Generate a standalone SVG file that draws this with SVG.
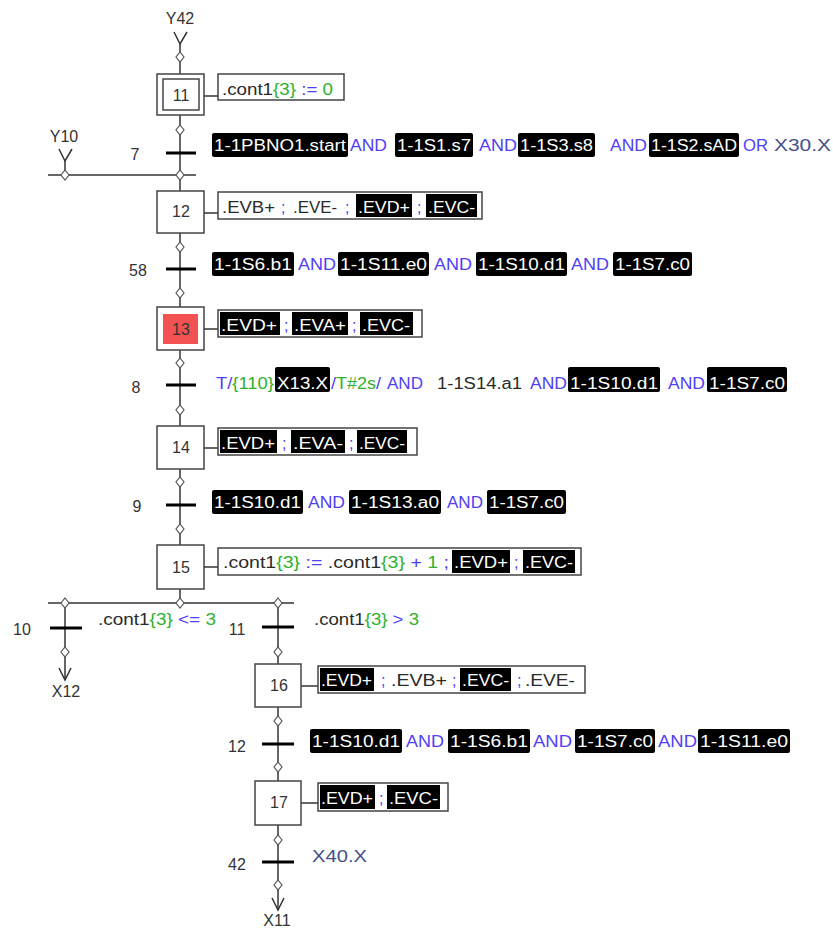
<svg xmlns="http://www.w3.org/2000/svg" xmlns:xlink="http://www.w3.org/1999/xlink" width="833" height="930" viewBox="0 0 833 930">
<style>
text{font-family:"Liberation Sans",Arial,sans-serif;font-size:16px;}
.box{fill:#fff;stroke:#444;stroke-width:1.5;}
.act{fill:#fff;stroke:#444;stroke-width:1.5;}
.blk{fill:#000;}
.w{fill:#fff;}
.d{fill:#2a2a2a;}
.b{fill:#5040f5;}
.g{fill:#30b030;}
.s{fill:#44508a;}
.num{fill:#333;text-anchor:middle;}
.lbl{fill:#333;text-anchor:middle;}
.ln{stroke:#333;stroke-width:1.5;fill:none;}
.bar{stroke:#000;stroke-width:3;}
</style>
<defs>
<path id="dm" d="M0,-5 L4,0 L0,5 L-4,0 Z" fill="#fff" stroke="#555" stroke-width="1.2"/>
</defs>

<g id="connectors">
<polyline class="ln" points="174,32 180,44 187,32"/>
<line class="ln" x1="180" y1="44" x2="180" y2="74"/>
<line class="ln" x1="180" y1="115" x2="180" y2="191"/>
<polyline class="ln" points="59,149 65,161 72,149"/>
<line class="ln" x1="65" y1="161" x2="65" y2="175"/>
<line class="ln" x1="48" y1="175" x2="196" y2="175"/>
<line class="ln" x1="180" y1="233" x2="180" y2="307"/>
<line class="ln" x1="180" y1="350" x2="180" y2="426"/>
<line class="ln" x1="180" y1="469" x2="180" y2="545"/>
<line class="ln" x1="180" y1="589" x2="180" y2="603"/>
<line class="ln" x1="48" y1="603" x2="294" y2="603"/>
<line class="ln" x1="65" y1="603" x2="65" y2="680"/>
<polyline class="ln" points="59,668 65,680 71,668"/>
<line class="ln" x1="278" y1="603" x2="278" y2="664"/>
<line class="ln" x1="278" y1="707" x2="278" y2="781"/>
<line class="ln" x1="278" y1="825" x2="278" y2="910"/>
<polyline class="ln" points="272,898 278,910 284,898"/>
<line class="ln" x1="204" y1="96" x2="218" y2="96"/>
<line class="ln" x1="204" y1="213" x2="218" y2="213"/>
<line class="ln" x1="204" y1="329" x2="218" y2="329"/>
<line class="ln" x1="204" y1="448" x2="218" y2="448"/>
<line class="ln" x1="204" y1="567" x2="218" y2="567"/>
<line class="ln" x1="301" y1="686" x2="318" y2="686"/>
<line class="ln" x1="301" y1="803" x2="318" y2="803"/>
<use href="#dm" x="180" y="57"/>
<use href="#dm" x="180" y="130"/>
<use href="#dm" x="180" y="175"/>
<use href="#dm" x="65" y="175"/>
<use href="#dm" x="180" y="247"/>
<use href="#dm" x="180" y="293"/>
<use href="#dm" x="180" y="363"/>
<use href="#dm" x="180" y="410"/>
<use href="#dm" x="180" y="482"/>
<use href="#dm" x="180" y="529"/>
<use href="#dm" x="180" y="603"/>
<use href="#dm" x="65" y="603"/>
<use href="#dm" x="278" y="603"/>
<use href="#dm" x="65" y="652"/>
<use href="#dm" x="278" y="652"/>
<use href="#dm" x="278" y="721"/>
<use href="#dm" x="278" y="767"/>
<use href="#dm" x="278" y="840"/>
<use href="#dm" x="278" y="885"/>
<text class="lbl" x="180" y="24">Y42</text>
<text class="lbl" x="64" y="142">Y10</text>
<text class="lbl" x="66" y="697">X12</text>
<text class="lbl" x="277" y="926">X11</text>
</g>

<g id="step11">
<rect class="box" x="157" y="74" width="47" height="41"/>
<rect class="box" x="163" y="79" width="36" height="31"/>
<text class="num" x="181" y="101">11</text>
<rect class="act" x="218" y="74" width="126" height="26"/>
<text x="222" y="95" textLength="111" lengthAdjust="spacingAndGlyphs"><tspan class="d">.cont1</tspan><tspan class="g">{3}</tspan><tspan class="b"> := </tspan><tspan class="g">0</tspan></text>
</g>

<g id="t7">
<line class="bar" x1="166" y1="153" x2="196" y2="153"/>
<text class="lbl" x="135" y="160">7</text>
<rect class="blk" x="212" y="133" width="136" height="24" rx="2"/>
<text class="w" x="214" y="151" textLength="132" lengthAdjust="spacingAndGlyphs">1-1PBNO1.start</text>
<text class="b" x="350" y="151" textLength="37" lengthAdjust="spacingAndGlyphs">AND</text>
<rect class="blk" x="395" y="133" width="78" height="24" rx="2"/>
<text class="w" x="397" y="151" textLength="74" lengthAdjust="spacingAndGlyphs">1-1S1.s7</text>
<text class="b" x="479" y="151" textLength="38" lengthAdjust="spacingAndGlyphs">AND</text>
<rect class="blk" x="518" y="133" width="77" height="24" rx="2"/>
<text class="w" x="520" y="151" textLength="73" lengthAdjust="spacingAndGlyphs">1-1S3.s8</text>
<text class="b" x="610" y="151" textLength="37" lengthAdjust="spacingAndGlyphs">AND</text>
<rect class="blk" x="649" y="133" width="90" height="24" rx="2"/>
<text class="w" x="651" y="151" textLength="86" lengthAdjust="spacingAndGlyphs">1-1S2.sAD</text>
<text class="b" x="743" y="151" textLength="25" lengthAdjust="spacingAndGlyphs">OR</text>
<text class="s" x="774" y="151" textLength="57" lengthAdjust="spacingAndGlyphs">X30.X</text>
</g>

<g id="step12">
<rect class="box" x="157" y="191" width="47" height="42"/>
<text class="num" x="181" y="217">12</text>
<rect class="act" x="218" y="192" width="264" height="27"/>
<text class="d" x="222" y="213" textLength="53" lengthAdjust="spacingAndGlyphs">.EVB+</text>
<text class="b" x="281" y="213">;</text>
<text class="d" x="293" y="213" textLength="44" lengthAdjust="spacingAndGlyphs">.EVE-</text>
<text class="b" x="345" y="213">;</text>
<rect class="blk" x="356" y="194" width="56" height="23"/>
<text class="w" x="358" y="213" textLength="52" lengthAdjust="spacingAndGlyphs">.EVD+</text>
<text class="b" x="417" y="213">;</text>
<rect class="blk" x="426" y="194" width="51" height="23"/>
<text class="w" x="428" y="213" textLength="47" lengthAdjust="spacingAndGlyphs">.EVC-</text>
</g>

<g id="t58">
<line class="bar" x1="166" y1="269" x2="196" y2="269"/>
<text class="lbl" x="138" y="276">58</text>
<rect class="blk" x="212" y="252" width="82" height="24" rx="2"/>
<text class="w" x="214" y="270" textLength="78" lengthAdjust="spacingAndGlyphs">1-1S6.b1</text>
<text class="b" x="298" y="270" textLength="38" lengthAdjust="spacingAndGlyphs">AND</text>
<rect class="blk" x="338" y="252" width="91" height="24" rx="2"/>
<text class="w" x="340" y="270" textLength="87" lengthAdjust="spacingAndGlyphs">1-1S11.e0</text>
<text class="b" x="434" y="270" textLength="38" lengthAdjust="spacingAndGlyphs">AND</text>
<rect class="blk" x="476" y="252" width="91" height="24" rx="2"/>
<text class="w" x="478" y="270" textLength="87" lengthAdjust="spacingAndGlyphs">1-1S10.d1</text>
<text class="b" x="571" y="270" textLength="38" lengthAdjust="spacingAndGlyphs">AND</text>
<rect class="blk" x="613" y="252" width="79" height="24" rx="2"/>
<text class="w" x="615" y="270" textLength="75" lengthAdjust="spacingAndGlyphs">1-1S7.c0</text>
</g>

<g id="step13">
<rect class="box" x="157" y="307" width="47" height="43"/>
<rect x="163" y="314" width="35" height="30" fill="#f25252"/>
<text class="num" x="181" y="335">13</text>
<rect class="act" x="218" y="310" width="204" height="27"/>
<rect class="blk" x="220" y="312" width="60" height="23"/>
<text class="w" x="221" y="331" textLength="56" lengthAdjust="spacingAndGlyphs">.EVD+</text>
<text class="b" x="284" y="331">;</text>
<rect class="blk" x="292" y="312" width="56" height="23"/>
<text class="w" x="294" y="331" textLength="52" lengthAdjust="spacingAndGlyphs">.EVA+</text>
<text class="b" x="352" y="331">;</text>
<rect class="blk" x="360" y="312" width="53" height="23"/>
<text class="w" x="362" y="331" textLength="48" lengthAdjust="spacingAndGlyphs">.EVC-</text>
</g>

<g id="t8">
<line class="bar" x1="166" y1="385" x2="196" y2="385"/>
<text class="lbl" x="136" y="393">8</text>
<text x="216" y="389" textLength="58" lengthAdjust="spacingAndGlyphs"><tspan class="b">T/</tspan><tspan class="g">{110}</tspan></text>
<rect class="blk" x="275" y="367" width="55" height="25" rx="2"/>
<text class="w" x="277" y="389" textLength="51" lengthAdjust="spacingAndGlyphs">X13.X</text>
<text x="331" y="389" textLength="50" lengthAdjust="spacingAndGlyphs"><tspan class="b">/</tspan><tspan class="g">T#2s</tspan><tspan class="b">/</tspan></text>
<text class="b" x="387" y="389" textLength="36" lengthAdjust="spacingAndGlyphs">AND</text>
<text class="d" x="437" y="389" textLength="85" lengthAdjust="spacingAndGlyphs">1-1S14.a1</text>
<text class="b" x="530" y="389" textLength="37" lengthAdjust="spacingAndGlyphs">AND</text>
<rect class="blk" x="568" y="367" width="92" height="25" rx="2"/>
<text class="w" x="570" y="389" textLength="88" lengthAdjust="spacingAndGlyphs">1-1S10.d1</text>
<text class="b" x="668" y="389" textLength="37" lengthAdjust="spacingAndGlyphs">AND</text>
<rect class="blk" x="707" y="367" width="80" height="25" rx="2"/>
<text class="w" x="709" y="389" textLength="76" lengthAdjust="spacingAndGlyphs">1-1S7.c0</text>
</g>

<g id="step14">
<rect class="box" x="157" y="426" width="47" height="43"/>
<text class="num" x="181" y="453">14</text>
<rect class="act" x="218" y="428" width="199" height="27"/>
<rect class="blk" x="220" y="430" width="57" height="23"/>
<text class="w" x="221" y="449" textLength="54" lengthAdjust="spacingAndGlyphs">.EVD+</text>
<text class="b" x="282" y="449">;</text>
<rect class="blk" x="291" y="430" width="54" height="23"/>
<text class="w" x="293" y="449" textLength="50" lengthAdjust="spacingAndGlyphs">.EVA-</text>
<text class="b" x="349" y="449">;</text>
<rect class="blk" x="357" y="430" width="50" height="23"/>
<text class="w" x="359" y="449" textLength="46" lengthAdjust="spacingAndGlyphs">.EVC-</text>
</g>

<g id="t9">
<line class="bar" x1="166" y1="505" x2="196" y2="505"/>
<text class="lbl" x="137" y="512">9</text>
<rect class="blk" x="212" y="490" width="91" height="24" rx="2"/>
<text class="w" x="214" y="508" textLength="87" lengthAdjust="spacingAndGlyphs">1-1S10.d1</text>
<text class="b" x="308" y="508" textLength="37" lengthAdjust="spacingAndGlyphs">AND</text>
<rect class="blk" x="349" y="490" width="92" height="24" rx="2"/>
<text class="w" x="351" y="508" textLength="88" lengthAdjust="spacingAndGlyphs">1-1S13.a0</text>
<text class="b" x="447" y="508" textLength="36" lengthAdjust="spacingAndGlyphs">AND</text>
<rect class="blk" x="487" y="490" width="79" height="24" rx="2"/>
<text class="w" x="489" y="508" textLength="75" lengthAdjust="spacingAndGlyphs">1-1S7.c0</text>
</g>

<g id="step15">
<rect class="box" x="157" y="545" width="47" height="44"/>
<text class="num" x="181" y="573">15</text>
<rect class="act" x="218" y="548" width="363" height="27"/>
<text x="223" y="568" textLength="226" lengthAdjust="spacingAndGlyphs"><tspan class="d">.cont1</tspan><tspan class="g">{3}</tspan><tspan class="b"> := </tspan><tspan class="d">.cont1</tspan><tspan class="g">{3}</tspan><tspan class="b"> + </tspan><tspan class="g">1</tspan><tspan class="b">  ;</tspan></text>
<rect class="blk" x="452" y="550" width="58" height="23"/>
<text class="w" x="454" y="568" textLength="54" lengthAdjust="spacingAndGlyphs">.EVD+</text>
<text class="b" x="514" y="568">;</text>
<rect class="blk" x="523" y="550" width="52" height="23"/>
<text class="w" x="525" y="568" textLength="48" lengthAdjust="spacingAndGlyphs">.EVC-</text>
</g>

<g id="t10">
<line class="bar" x1="50" y1="628" x2="82" y2="628"/>
<text class="lbl" x="22" y="635">10</text>
<text x="98" y="625" textLength="118" lengthAdjust="spacingAndGlyphs"><tspan class="d">.cont1</tspan><tspan class="g">{3}</tspan><tspan class="b"> &lt;= </tspan><tspan class="g">3</tspan></text>
</g>

<g id="t11">
<line class="bar" x1="262" y1="627" x2="294" y2="627"/>
<text class="lbl" x="237" y="635">11</text>
<text x="314" y="625" textLength="105" lengthAdjust="spacingAndGlyphs"><tspan class="d">.cont1</tspan><tspan class="g">{3}</tspan><tspan class="b"> &gt; </tspan><tspan class="g">3</tspan></text>
</g>

<g id="step16">
<rect class="box" x="255" y="664" width="46" height="43"/>
<text class="num" x="279" y="691">16</text>
<rect class="act" x="318" y="666" width="267" height="27"/>
<rect class="blk" x="320" y="668" width="54" height="23"/>
<text class="w" x="321" y="686" textLength="51" lengthAdjust="spacingAndGlyphs">.EVD+</text>
<text class="b" x="381" y="686">;</text>
<text class="d" x="391" y="686" textLength="56" lengthAdjust="spacingAndGlyphs">.EVB+</text>
<text class="b" x="452" y="686">;</text>
<rect class="blk" x="460" y="668" width="51" height="23"/>
<text class="w" x="462" y="686" textLength="47" lengthAdjust="spacingAndGlyphs">.EVC-</text>
<text class="b" x="517" y="686">;</text>
<text class="d" x="525" y="686" textLength="50" lengthAdjust="spacingAndGlyphs">.EVE-</text>
</g>

<g id="t12">
<line class="bar" x1="262" y1="744" x2="294" y2="744"/>
<text class="lbl" x="237" y="752">12</text>
<rect class="blk" x="310" y="729" width="92" height="24" rx="2"/>
<text class="w" x="312" y="747" textLength="88" lengthAdjust="spacingAndGlyphs">1-1S10.d1</text>
<text class="b" x="406" y="747" textLength="38" lengthAdjust="spacingAndGlyphs">AND</text>
<rect class="blk" x="448" y="729" width="82" height="24" rx="2"/>
<text class="w" x="450" y="747" textLength="78" lengthAdjust="spacingAndGlyphs">1-1S6.b1</text>
<text class="b" x="533" y="747" textLength="39" lengthAdjust="spacingAndGlyphs">AND</text>
<rect class="blk" x="575" y="729" width="80" height="24" rx="2"/>
<text class="w" x="577" y="747" textLength="76" lengthAdjust="spacingAndGlyphs">1-1S7.c0</text>
<text class="b" x="658" y="747" textLength="39" lengthAdjust="spacingAndGlyphs">AND</text>
<rect class="blk" x="698" y="729" width="92" height="24" rx="2"/>
<text class="w" x="700" y="747" textLength="88" lengthAdjust="spacingAndGlyphs">1-1S11.e0</text>
</g>

<g id="step17">
<rect class="box" x="255" y="781" width="46" height="44"/>
<text class="num" x="279" y="808">17</text>
<rect class="act" x="318" y="783" width="130" height="28"/>
<rect class="blk" x="320" y="785" width="55" height="24"/>
<text class="w" x="321" y="804" textLength="52" lengthAdjust="spacingAndGlyphs">.EVD+</text>
<text class="b" x="379" y="804">;</text>
<rect class="blk" x="387" y="785" width="53" height="24"/>
<text class="w" x="389" y="804" textLength="49" lengthAdjust="spacingAndGlyphs">.EVC-</text>
</g>

<g id="t42">
<line class="bar" x1="262" y1="862" x2="294" y2="862"/>
<text class="lbl" x="237" y="870">42</text>
<text class="s" x="312" y="862" textLength="55" lengthAdjust="spacingAndGlyphs">X40.X</text>
</g>
</svg>
